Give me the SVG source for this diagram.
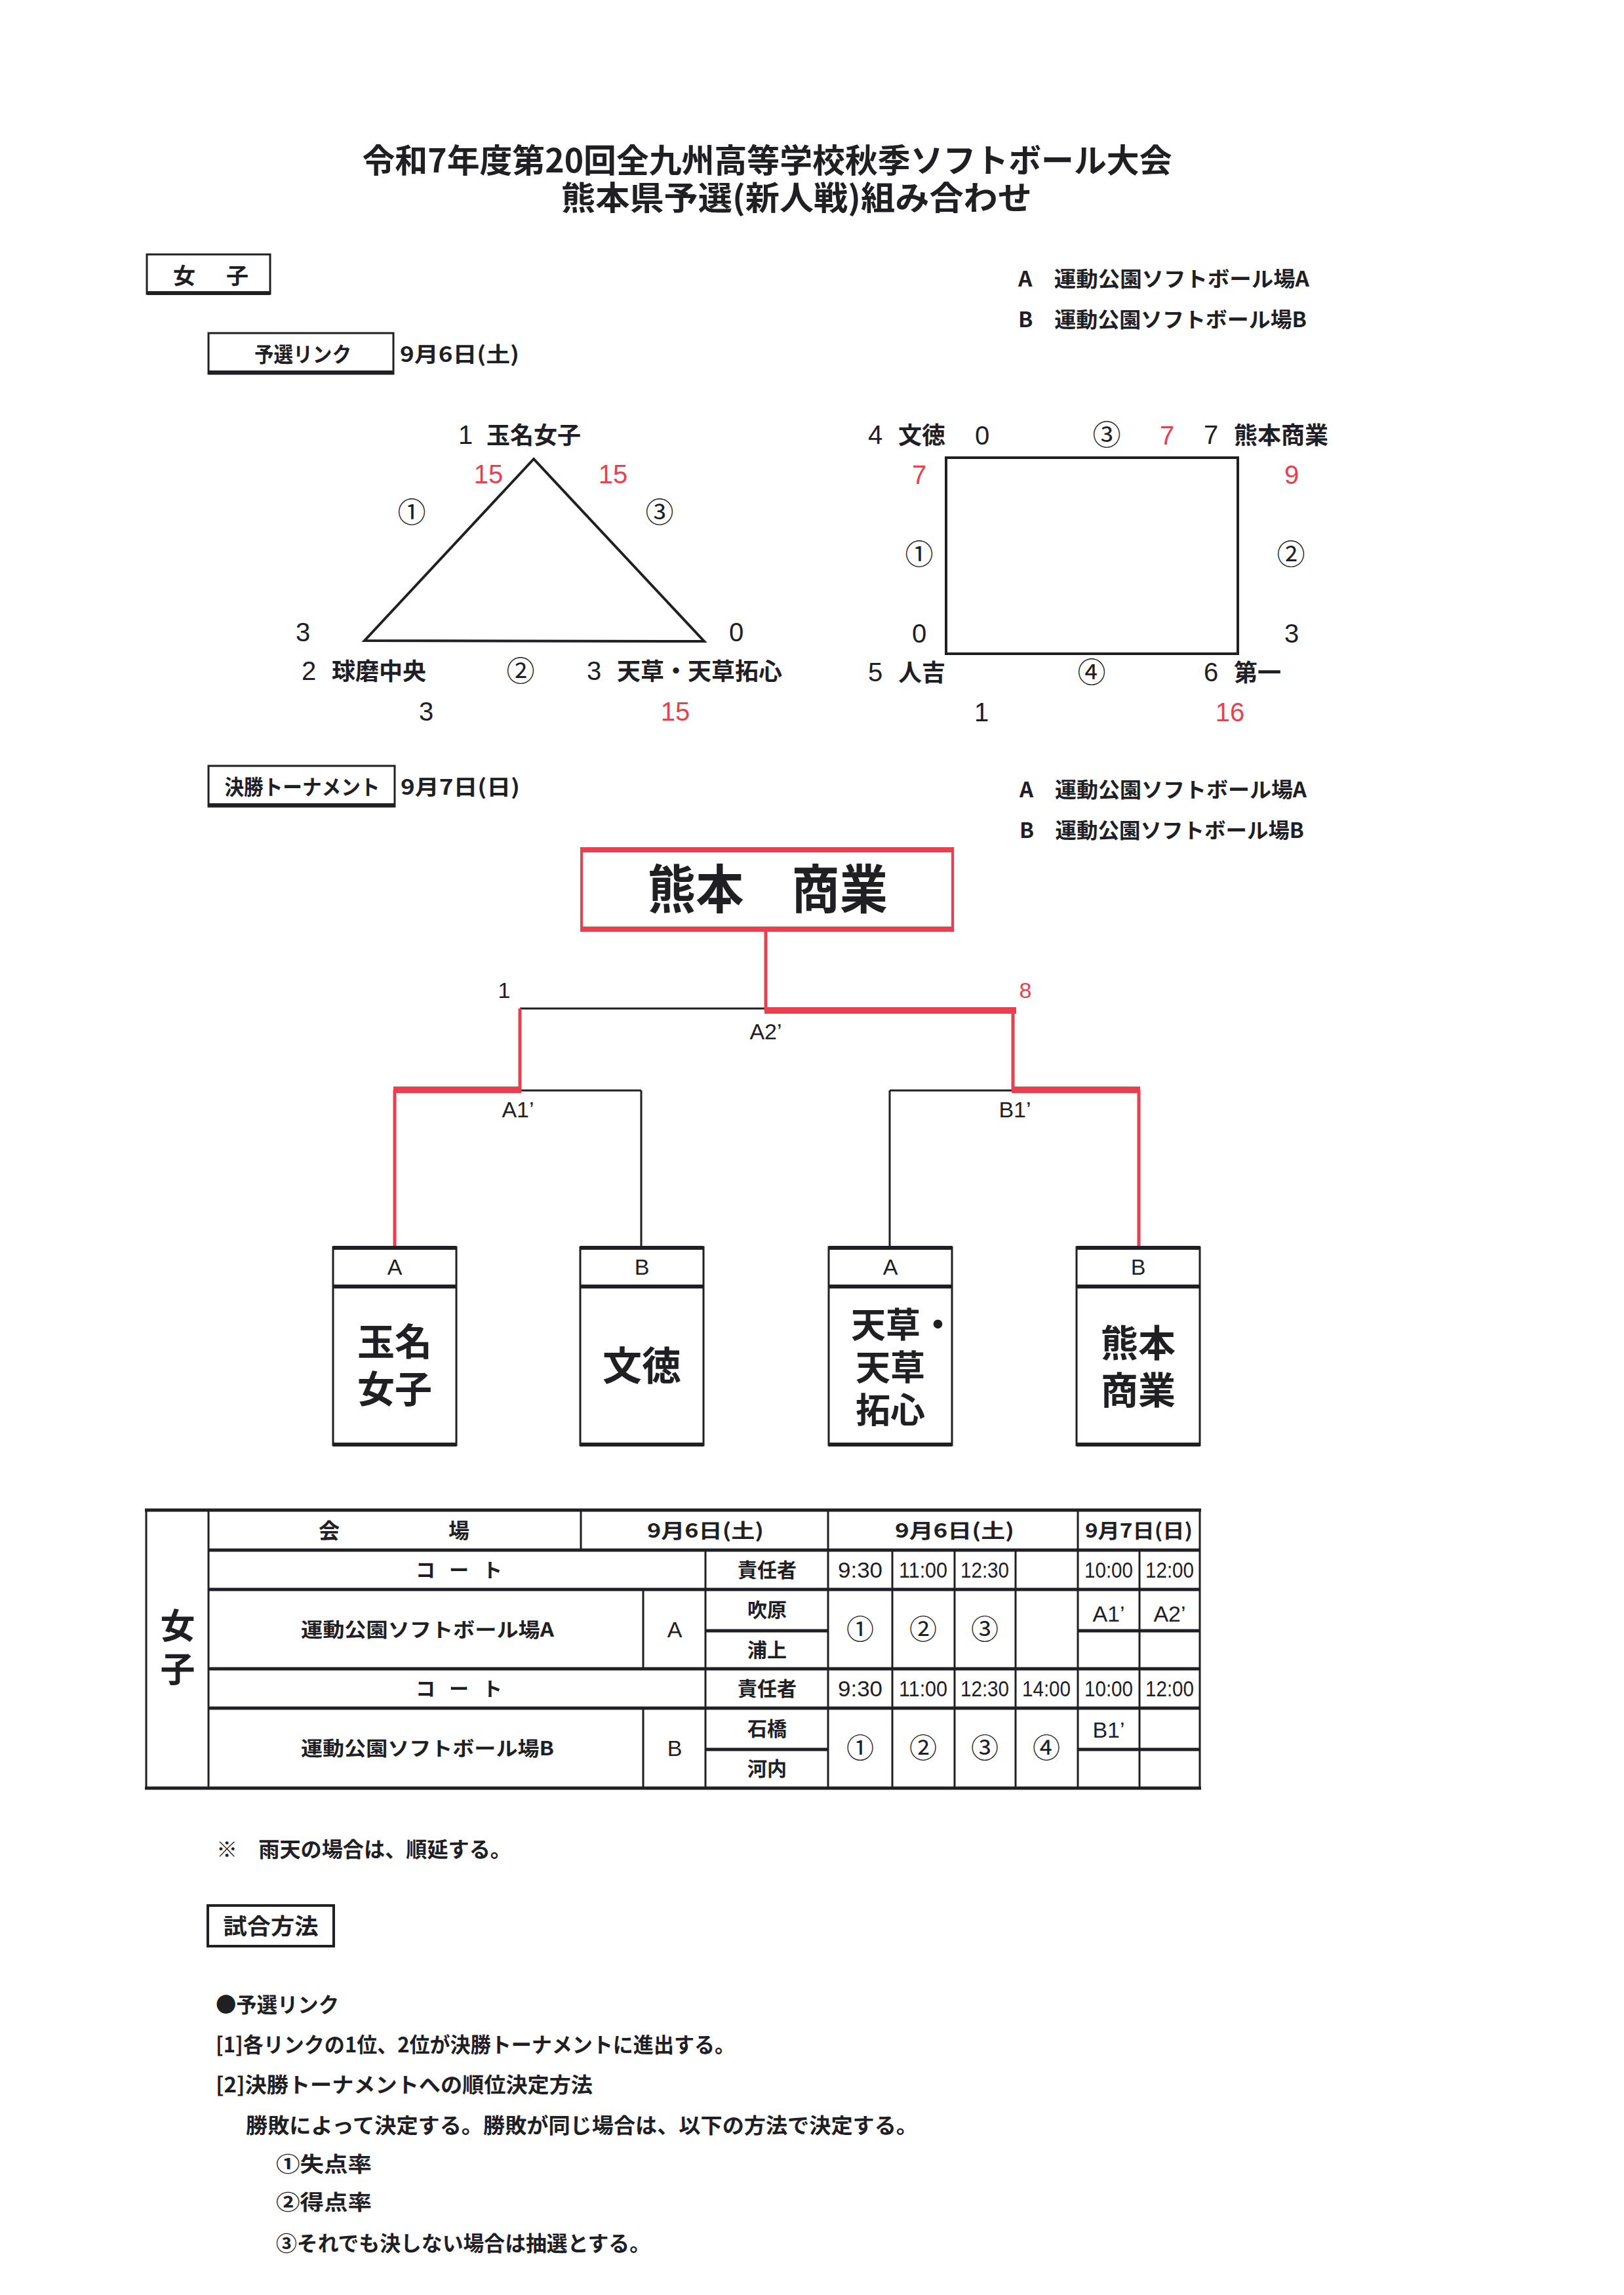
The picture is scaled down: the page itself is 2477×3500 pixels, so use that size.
<svg xmlns="http://www.w3.org/2000/svg" width="2477" height="3500" viewBox="0 0 2477 3500">
<style>
text{font-family:"Liberation Sans","Noto Sans CJK JP",sans-serif;fill:#202024}
.j{font-family:"Noto Sans CJK JP","Noto Sans CJK SC",sans-serif;font-weight:700}
.c{font-family:"Noto Sans CJK JP",sans-serif;font-weight:400}
.n{font-family:"Liberation Sans Narrow","Liberation Sans",sans-serif}
.r{fill:#e8404f}
.m{text-anchor:middle}
.ln{stroke:#202024;fill:none}
.rl{stroke:#e8404f;fill:none}
.hb{stroke:#202024;stroke-width:5;fill:none}
.vb{stroke:#202024;stroke-width:3;fill:none}
</style>
<rect width="2477" height="3500" fill="#ffffff"/>

<g id="title">
<text class="j m" x="1170" y="263" font-size="50" font-weight="900" textLength="1235" lengthAdjust="spacingAndGlyphs">令和7年度第20回全九州高等学校秋季ソフトボール大会</text>
<text class="j m" x="1215" y="320" font-size="50" font-weight="900" textLength="718" lengthAdjust="spacingAndGlyphs">熊本県予選(新人戦)組み合わせ</text>
</g>

<g id="label-girls">
<rect x="224" y="388" width="188" height="60" class="ln" stroke-width="3"/>
<path d="M224 447H412" class="ln" stroke-width="6"/>
<text class="j m" font-size="34" y="433"><tspan x="281">女</tspan><tspan x="362">子</tspan></text>
</g>

<g id="legend-1">
<text class="j" x="1553" y="437" font-size="32" textLength="444" lengthAdjust="spacingAndGlyphs">A　運動公園ソフトボール場A</text>
<text class="j" x="1553" y="499" font-size="32" textLength="440" lengthAdjust="spacingAndGlyphs">B　運動公園ソフトボール場B</text>
</g>

<g id="label-prelim">
<rect x="318" y="508" width="282" height="62" class="ln" stroke-width="3"/>
<path d="M318 568H600" class="ln" stroke-width="6"/>
<text class="j m" x="462" y="552" font-size="32" textLength="148" lengthAdjust="spacingAndGlyphs">予選リンク</text>
<text class="j" x="610" y="552" font-size="32" textLength="182" lengthAdjust="spacingAndGlyphs">9月6日(土)</text>
</g>

<g id="league-triangle">
<polygon points="814,700 556,977 1074,978" class="ln" stroke-width="4" stroke-linejoin="miter"/>
<text font-size="36" y="677"><tspan class="n" x="699" font-size="40">1</tspan><tspan class="j" x="742">玉名女子</tspan></text>
<text class="n r m" x="745" y="737" font-size="40">15</text>
<text class="n r m" x="935" y="737" font-size="40">15</text>
<text class="c m" x="628" y="797" font-size="43">①</text>
<text class="c m" x="1006" y="797" font-size="43">③</text>
<text class="n m" x="462" y="978" font-size="40">3</text>
<text class="n m" x="1123" y="978" font-size="40">0</text>
<text font-size="36" y="1037"><tspan class="n" x="460" font-size="40">2</tspan><tspan class="j" x="506">球磨中央</tspan></text>
<text class="c m" x="794" y="1039" font-size="43">②</text>
<text font-size="36" y="1037"><tspan class="n" x="895" font-size="40">3</tspan><tspan class="j" x="941">天草・天草拓心</tspan></text>
<text class="n m" x="650" y="1099" font-size="40">3</text>
<text class="n r m" x="1030" y="1099" font-size="40">15</text>
</g>

<g id="league-square">
<rect x="1443" y="698" width="445" height="299" class="ln" stroke-width="4"/>
<text font-size="36" y="677"><tspan class="n" x="1324" font-size="40">4</tspan><tspan class="j" x="1370">文徳</tspan></text>
<text class="n m" x="1498" y="678" font-size="40">0</text>
<text class="c m" x="1688" y="679" font-size="43">③</text>
<text class="n r m" x="1780" y="678" font-size="40">7</text>
<text font-size="36" y="677"><tspan class="n" x="1836" font-size="40">7</tspan><tspan class="j" x="1882">熊本商業</tspan></text>
<text class="n r m" x="1402" y="738" font-size="40">7</text>
<text class="n r m" x="1970" y="738" font-size="40">9</text>
<text class="c m" x="1402" y="861" font-size="43">①</text>
<text class="c m" x="1969" y="861" font-size="43">②</text>
<text class="n m" x="1402" y="980" font-size="40">0</text>
<text class="n m" x="1970" y="980" font-size="40">3</text>
<text font-size="36" y="1039"><tspan class="n" x="1324" font-size="40">5</tspan><tspan class="j" x="1370">人吉</tspan></text>
<text class="c m" x="1665" y="1041" font-size="43">④</text>
<text font-size="36" y="1039"><tspan class="n" x="1836" font-size="40">6</tspan><tspan class="j" x="1882">第一</tspan></text>
<text class="n m" x="1497" y="1100" font-size="40">1</text>
<text class="n r m" x="1876" y="1100" font-size="40">16</text>
</g>

<g id="label-final">
<rect x="318" y="1168" width="284" height="62" class="ln" stroke-width="3"/>
<path d="M318 1228H602" class="ln" stroke-width="6"/>
<text class="j m" x="461" y="1212" font-size="32" textLength="237" lengthAdjust="spacingAndGlyphs">決勝トーナメント</text>
<text class="j" x="611" y="1212" font-size="32" textLength="182" lengthAdjust="spacingAndGlyphs">9月7日(日)</text>
</g>

<g id="legend-2">
<text class="j" x="1555" y="1216" font-size="32" textLength="438" lengthAdjust="spacingAndGlyphs">A　運動公園ソフトボール場A</text>
<text class="j" x="1555" y="1278" font-size="32" textLength="434" lengthAdjust="spacingAndGlyphs">B　運動公園ソフトボール場B</text>
</g>

<g id="winner">
<rect x="887" y="1294" width="566" height="125" class="rl" stroke-width="4"/>
<path d="M885 1296H1455M885 1417H1455" class="rl" stroke-width="8"/>
<text class="j m" x="1171" y="1385" font-size="80" font-weight="900" textLength="366" lengthAdjust="spacingAndGlyphs">熊本　商業</text>
</g>

<g id="connectors">
<path d="M793 1538H1168" class="ln" stroke-width="3"/>
<path d="M793 1663H978M1357 1663H1545" class="ln" stroke-width="3"/>
<path d="M978 1663V1902M1357 1663V1902" class="ln" stroke-width="3"/>
<path d="M1168 1421V1541M793 1538V1663M1545 1541V1663M602 1662V1902M1737 1662V1902" class="rl" stroke-width="5"/>
<path d="M1166 1541H1550M600 1662H795M1543 1662H1739" class="rl" stroke-width="10"/>
<text class="n m" x="769" y="1522" font-size="34">1</text>
<text class="n r m" x="1564" y="1522" font-size="34">8</text>
<text class="n m" x="1168" y="1585" font-size="34">A2’</text>
<text class="n m" x="790" y="1704" font-size="34">A1’</text>
<text class="n m" x="1548" y="1704" font-size="34">B1’</text>
</g>

<g id="team-1">
<rect x="508" y="1902" width="188" height="302" class="ln" stroke-width="3"/>
<path d="M508 1903H696M508 1962H696M508 2203H696" class="ln" stroke-width="6"/>
<text class="n m" x="602" y="1944" font-size="34">A</text>
<text class="j m" font-size="57"><tspan x="602" y="2067">玉名</tspan><tspan x="602" y="2139">女子</tspan></text>
</g>
<g id="team-2">
<rect x="885" y="1902" width="188" height="302" class="ln" stroke-width="3"/>
<path d="M885 1903H1073M885 1962H1073M885 2203H1073" class="ln" stroke-width="6"/>
<text class="n m" x="979" y="1944" font-size="34">B</text>
<text class="j m" x="979" y="2105" font-size="60">文徳</text>
</g>
<g id="team-3">
<rect x="1264" y="1902" width="188" height="302" class="ln" stroke-width="3"/>
<path d="M1264 1903H1452M1264 1962H1452M1264 2203H1452" class="ln" stroke-width="6"/>
<text class="n m" x="1358" y="1944" font-size="34">A</text>
<text class="j" font-size="53"><tspan x="1298" y="2040">天草・</tspan><tspan x="1305" y="2105">天草</tspan><tspan x="1305" y="2170">拓心</tspan></text>
</g>
<g id="team-4">
<rect x="1642" y="1902" width="188" height="302" class="ln" stroke-width="3"/>
<path d="M1642 1903H1830M1642 1962H1830M1642 2203H1830" class="ln" stroke-width="6"/>
<text class="n m" x="1736" y="1944" font-size="34">B</text>
<text class="j m" font-size="57"><tspan x="1736" y="2069">熊本</tspan><tspan x="1736" y="2141">商業</tspan></text>
</g>

<g id="schedule-table">
<path class="hb" d="M221 2303H1832M318 2364H1830M318 2424H1830M1076 2487H1263M1644 2487H1830M318 2545H1830M318 2605H1830M1076 2668H1263M1644 2668H1830M221 2727H1832"/>
<path class="vb" d="M223 2303V2727M318 2303V2727M886 2303V2364M981 2424V2545M981 2605V2727M1076 2364V2727M1263 2303V2727M1361 2364V2727M1456 2364V2727M1549 2364V2727M1644 2303V2727M1738 2364V2727M1830 2303V2727"/>
<text class="j m" font-size="53" x="271"><tspan x="271" y="2499">女</tspan><tspan x="271" y="2565">子</tspan></text>
<text class="j m" font-size="32" y="2346"><tspan x="502">会</tspan><tspan x="700">場</tspan></text>
<text class="j m" x="1076" y="2345" font-size="30" textLength="178" lengthAdjust="spacingAndGlyphs">9月6日(土)</text>
<text class="j m" x="1456" y="2345" font-size="30" textLength="182" lengthAdjust="spacingAndGlyphs">9月6日(土)</text>
<text class="j m" x="1737" y="2345" font-size="30" textLength="164" lengthAdjust="spacingAndGlyphs">9月7日(日)</text>
<text class="j m" x="700" y="2405" font-size="30" textLength="132">コ　ー　ト</text>
<text class="j m" x="1170" y="2405" font-size="30">責任者</text>
<text class="n m" x="1312" y="2406" font-size="34" textLength="68" lengthAdjust="spacingAndGlyphs">9:30</text>
<text class="n m" x="1408" y="2406" font-size="34" textLength="74" lengthAdjust="spacingAndGlyphs">11:00</text>
<text class="n m" x="1502" y="2406" font-size="34" textLength="74" lengthAdjust="spacingAndGlyphs">12:30</text>
<text class="n m" x="1691" y="2406" font-size="34" textLength="74" lengthAdjust="spacingAndGlyphs">10:00</text>
<text class="n m" x="1784" y="2406" font-size="34" textLength="74" lengthAdjust="spacingAndGlyphs">12:00</text>
<text class="j m" x="652" y="2496" font-size="30" textLength="386" lengthAdjust="spacingAndGlyphs">運動公園ソフトボール場A</text>
<text class="n m" x="1029" y="2497" font-size="34">A</text>
<text class="j m" x="1170" y="2466" font-size="30">吹原</text>
<text class="j m" x="1170" y="2527" font-size="30">浦上</text>
<text class="c m" x="1312" y="2500" font-size="42">①</text>
<text class="c m" x="1408" y="2500" font-size="42">②</text>
<text class="c m" x="1502" y="2500" font-size="42">③</text>
<text class="n m" x="1691" y="2473" font-size="34">A1’</text>
<text class="n m" x="1784" y="2473" font-size="34">A2’</text>
<text class="j m" x="700" y="2586" font-size="30" textLength="132">コ　ー　ト</text>
<text class="j m" x="1170" y="2586" font-size="30">責任者</text>
<text class="n m" x="1312" y="2587" font-size="34" textLength="68" lengthAdjust="spacingAndGlyphs">9:30</text>
<text class="n m" x="1408" y="2587" font-size="34" textLength="74" lengthAdjust="spacingAndGlyphs">11:00</text>
<text class="n m" x="1502" y="2587" font-size="34" textLength="74" lengthAdjust="spacingAndGlyphs">12:30</text>
<text class="n m" x="1596" y="2587" font-size="34" textLength="74" lengthAdjust="spacingAndGlyphs">14:00</text>
<text class="n m" x="1691" y="2587" font-size="34" textLength="74" lengthAdjust="spacingAndGlyphs">10:00</text>
<text class="n m" x="1784" y="2587" font-size="34" textLength="74" lengthAdjust="spacingAndGlyphs">12:00</text>
<text class="j m" x="652" y="2677" font-size="30" textLength="386" lengthAdjust="spacingAndGlyphs">運動公園ソフトボール場B</text>
<text class="n m" x="1029" y="2678" font-size="34">B</text>
<text class="j m" x="1170" y="2647" font-size="30">石橋</text>
<text class="j m" x="1170" y="2708" font-size="30">河内</text>
<text class="c m" x="1312" y="2681" font-size="42">①</text>
<text class="c m" x="1408" y="2681" font-size="42">②</text>
<text class="c m" x="1502" y="2681" font-size="42">③</text>
<text class="c m" x="1596" y="2681" font-size="42">④</text>
<text class="n m" x="1691" y="2650" font-size="34">B1’</text>
</g>

<g id="notes">
<text class="j" x="330" y="2832" font-size="32" textLength="450" lengthAdjust="spacingAndGlyphs">※　雨天の場合は、順延する。</text>
<rect x="317" y="2906" width="192" height="62" class="ln" stroke-width="4"/>
<text class="j m" x="413" y="2950" font-size="34" textLength="145" lengthAdjust="spacingAndGlyphs">試合方法</text>
<text class="j" x="329" y="3069" font-size="32" textLength="188" lengthAdjust="spacingAndGlyphs">●予選リンク</text>
<text class="j" x="329" y="3130" font-size="32" textLength="792" lengthAdjust="spacingAndGlyphs">[1]各リンクの1位、2位が決勝トーナメントに進出する。</text>
<text class="j" x="329" y="3191" font-size="32" textLength="575" lengthAdjust="spacingAndGlyphs">[2]決勝トーナメントへの順位決定方法</text>
<text class="j" x="375" y="3253" font-size="32" textLength="1025" lengthAdjust="spacingAndGlyphs">勝敗によって決定する。勝敗が同じ場合は、以下の方法で決定する。</text>
<text class="j" x="421" y="3312" font-size="32" textLength="146" lengthAdjust="spacingAndGlyphs">①失点率</text>
<text class="j" x="421" y="3370" font-size="32" textLength="146" lengthAdjust="spacingAndGlyphs">②得点率</text>
<text class="j" x="421" y="3433" font-size="32" textLength="571" lengthAdjust="spacingAndGlyphs">③それでも決しない場合は抽選とする。</text>
</g>
</svg>
